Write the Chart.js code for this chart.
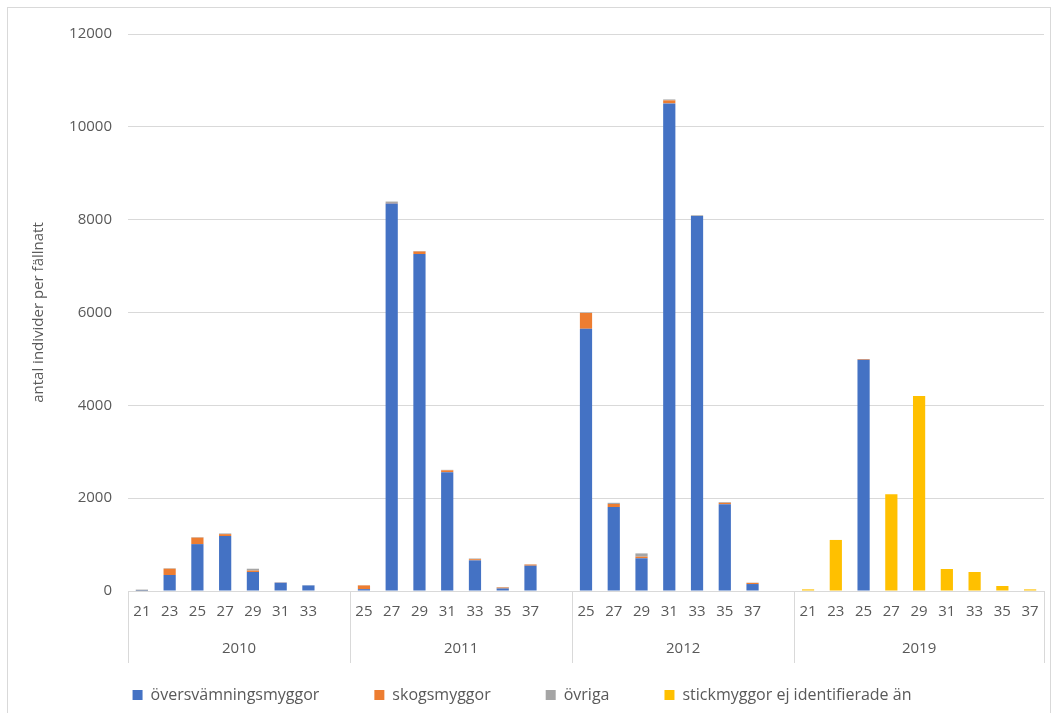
<!DOCTYPE html>
<html lang="sv">
<head>
    <meta charset="UTF-8">
    <title>Stickmyggor per fällnatt</title>
    <script src="https://cdn.jsdelivr.net/npm/chart.js"></script>
    <style>
        body {
            margin: 0;
            padding: 0;
            background: #fff;
            font-family: "Open Sans", sans-serif;
        }

        #wrap {
            position: relative;
            width: 1054px;
            height: 713px;
            overflow: hidden;
        }

        #frame {
            position: absolute;
            left: 7px;
            top: 7px;
            width: 1042px;
            height: 720px;
            border: 1px solid #d9d9d9;
            pointer-events: none;
        }
    </style>
</head>
<body>
    <div id="wrap">
        <canvas id="chart"></canvas>
        <div id="frame"></div>
    </div>

    <script>
        // week numbers, '' = empty spacer slot at the end of a year
        const weekLabels = [
            '21', '23', '25', '27', '29', '31', '33', '',
            '25', '27', '29', '31', '33', '35', '37', '',
            '25', '27', '29', '31', '33', '35', '37', '',
            '21', '23', '25', '27', '29', '31', '33', '35', '37'
        ];
        const years = ['2010', '2011', '2012', '2019'];
        const groupSizes = [8, 8, 8, 9];

        const oversvamning = [
            5, 345, 1010, 1185, 410, 180, 120, null,
            40, 8350, 7260, 2560, 660, 55, 545, null,
            5650, 1810, 705, 10505, 8080, 1870, 150, null,
            0, 0, 4980, 0, 0, 0, 0, 0, 0
        ];
        const skogs = [
            0, 135, 140, 40, 30, 5, 0, null,
            80, 10, 55, 40, 25, 20, 25, null,
            340, 65, 35, 65, 0, 30, 25, null,
            0, 0, 15, 0, 0, 0, 0, 0, 0
        ];
        const ovriga = [
            25, 10, 10, 15, 40, 0, 5, null,
            5, 30, 10, 10, 15, 10, 5, null,
            10, 25, 70, 20, 15, 15, 5, null,
            0, 0, 0, 0, 0, 0, 0, 0, 0
        ];
        const ejIdentifierade = [
            0, 0, 0, 0, 0, 0, 0, null,
            0, 0, 0, 0, 0, 0, 0, null,
            0, 0, 0, 0, 0, 0, 0, null,
            35, 1100, 0, 2083, 4200, 474, 410, 108, 35
        ];

        const textColor = '#595959';
        const lineColor = '#d9d9d9';

        // draws the year row of the two-level category axis
        const groupAxis = {
            id: 'groupAxis',
            afterDraw(chart) {
                const { ctx, chartArea, scales: { x } } = chart;
                const step = x.getPixelForValue(1) - x.getPixelForValue(0);
                ctx.save();
                ctx.strokeStyle = lineColor;
                ctx.lineWidth = 1;
                ctx.fillStyle = textColor;
                ctx.font = '15px "Open Sans"';
                ctx.textAlign = 'center';
                ctx.textBaseline = 'middle';

                const edges = [];
                let start = 0;
                years.forEach((yr, g) => {
                    const end = start + groupSizes[g];
                    const x0 = x.getPixelForValue(start) - step / 2;
                    const x1 = x.getPixelForValue(end - 1) + step / 2;
                    ctx.fillText(yr, (x0 + x1) / 2, chartArea.bottom + 58);
                    edges.push(x0);
                    if (g === years.length - 1) edges.push(x1);
                    start = end;
                });

                edges.forEach(px => {
                    const p = Math.round(px) + 0.5;
                    ctx.beginPath();
                    ctx.moveTo(p, chartArea.bottom);
                    ctx.lineTo(p, chartArea.bottom + 72);
                    ctx.stroke();
                });
                ctx.restore();
            }
        };

        const makeSet = (label, data, color) => ({
            label: label,
            data: data,
            backgroundColor: color,
            borderWidth: 0,
            categoryPercentage: 1,
            barPercentage: 0.44
        });

        document.addEventListener('DOMContentLoaded', () => {
            const ctx = document.getElementById('chart').getContext('2d');

            new Chart(ctx, {
                type: 'bar',
                data: {
                    labels: weekLabels,
                    datasets: [
                        makeSet('översvämningsmyggor', oversvamning, '#4472c4'),
                        makeSet('skogsmyggor', skogs, '#ed7d31'),
                        makeSet('övriga', ovriga, '#a5a5a5'),
                        makeSet('stickmyggor ej identifierade än', ejIdentifierade, '#ffc000')
                    ]
                },
                options: {
                    responsive: true,
                    maintainAspectRatio: false,
                    animation: false,
                    layout: {
                        padding: { left: 0, right: 10, top: 34, bottom: 0 }
                    },
                    scales: {
                        x: {
                            stacked: true,
                            grid: { display: false },
                            border: { display: true, color: lineColor, width: 1 },
                            ticks: {
                                color: textColor,
                                font: { family: 'Open Sans', size: 15 },
                                padding: 4,
                                autoSkip: false,
                                maxRotation: 0
                            },
                            // the legend box starts right under the week row, year row is drawn by groupAxis
                            afterFit: (scale) => { scale.height = 41; }
                        },
                        y: {
                            stacked: true,
                            min: 0,
                            max: 12000,
                            ticks: {
                                stepSize: 2000,
                                color: textColor,
                                font: { family: 'Open Sans', size: 15 },
                                padding: 16,
                                callback: (v) => String(v)
                            },
                            grid: { color: lineColor, drawTicks: false },
                            border: { display: false },
                            title: {
                                display: true,
                                text: 'antal individer per fällnatt',
                                color: textColor,
                                font: { family: 'Open Sans', size: 15 },
                                padding: { top: 30, bottom: 0 }
                            },
                            afterFit: (scale) => { scale.width = 128; }
                        }
                    },
                    plugins: {
                        legend: {
                            position: 'bottom',
                            labels: {
                                color: textColor,
                                font: { family: 'Open Sans', size: 16 },
                                boxWidth: 10,
                                boxHeight: 10,
                                padding: 55
                            }
                        },
                        tooltip: { enabled: false }
                    }
                },
                plugins: [groupAxis]
            });
        });
    </script>
</body>
</html>
